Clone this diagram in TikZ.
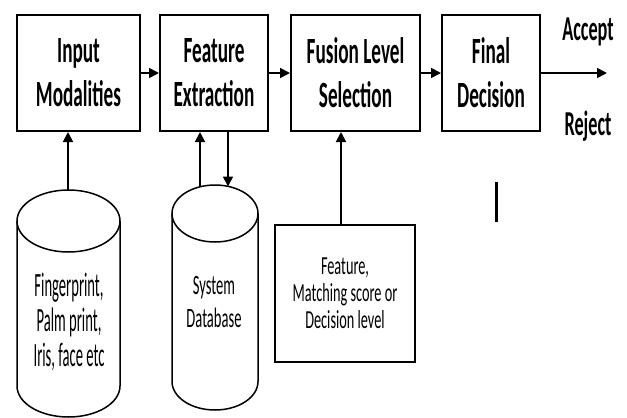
\documentclass[tikz,border=0pt]{standalone}
\usepackage{fontspec}
\setmainfont{Carlito}
\newfontfamily\labfont[FakeStretch=0.52]{Carlito}
\newfontfamily\cylfont[FakeStretch=0.43]{Carlito}
\newfontfamily\dbfont[FakeStretch=0.52]{Carlito}
\newfontfamily\smfont[FakeStretch=0.55]{Carlito}
\usetikzlibrary{arrows.meta}
\tikzset{
  blk/.style={draw, line width=2pt, inner sep=0pt, align=center,
    font=\labfont\bfseries\fontsize{37}{44}\selectfont},
  conn/.style={line width=1.8pt, -{Triangle[length=10pt,width=10pt]}},
  cyl/.style={line width=1.5pt},
  outlbl/.style={inner sep=0pt, font=\labfont\bfseries\fontsize{35}{45}\selectfont}
}
\begin{document}
\begin{tikzpicture}[x=1pt,y=-1pt]
\useasboundingbox (0,0) rectangle (627,418);
% main boxes
\node[blk, minimum width=123pt, minimum height=116pt] (b1) at (78.5,73) {Input\\Modalities};
\node[blk, minimum width=108pt, minimum height=116pt] (b2) at (214,73) {Feature\\Extraction};
\node[blk, minimum width=129pt, minimum height=116pt] (b3) at (355.5,73) {Fusion Level\\Selection};
\node[blk, minimum width=98pt, minimum height=116pt] (b4) at (491,73) {Final\\Decision};
\draw[conn] (b1) -- (b2);
\draw[conn] (b2) -- (b3);
\draw[conn] (b3) -- (b4);
\coordinate (outend) at (607,73);
\draw[conn] (b4) -- (outend);
\node[outlbl] (acc) at (588,32) {Accept};
\node[outlbl] (rej) at (588,126) {Reject};
% cylinder 1
\draw[cyl] (68.5,221) ellipse [x radius=51.5, y radius=31];
\draw[cyl] (17,221) -- (17,386) arc[start angle=180, end angle=0, x radius=51.5, y radius=31] -- (120,221);
\node[align=center, inner sep=0pt, font=\cylfont\fontsize{34}{35}\selectfont] (c1) at (69,322) {Fingerprint,\\Palm print,\\Iris, face etc};
\coordinate (c1top) at (68,190);
\draw[conn] (c1top) -- (c1top |- b1.south);
% cylinder 2
\draw[cyl] (215,213.5) ellipse [x radius=43, y radius=28.5];
\draw[cyl] (172,213.5) -- (172,381.5) arc[start angle=180, end angle=0, x radius=43, y radius=28.5] -- (258,213.5);
\node[align=center, inner sep=0pt, font=\dbfont\fontsize{28}{33}\selectfont] (c2) at (214,302) {System\\Database};
\coordinate (c2a) at (200,187);
\coordinate (c2b) at (228,186.5);
\draw[conn] (c2a) -- (c2a |- b2.south);
\draw[conn] (c2b |- b2.south) -- (c2b);
% fusion level box
\node[draw, line width=1.8pt, minimum width=140pt, minimum height=137pt, align=center,
  inner sep=0pt, font=\smfont\fontsize{26}{27}\selectfont] (b5) at (345,293.5)
  {Feature,\\Matching score or\\Decision level};
\coordinate (b5up) at (341,225);
\draw[conn] (b5up) -- (b5up |- b3.south);
% stray mark
\draw[line width=3pt] (496,182) -- (496,222);
\end{tikzpicture}
\end{document}
